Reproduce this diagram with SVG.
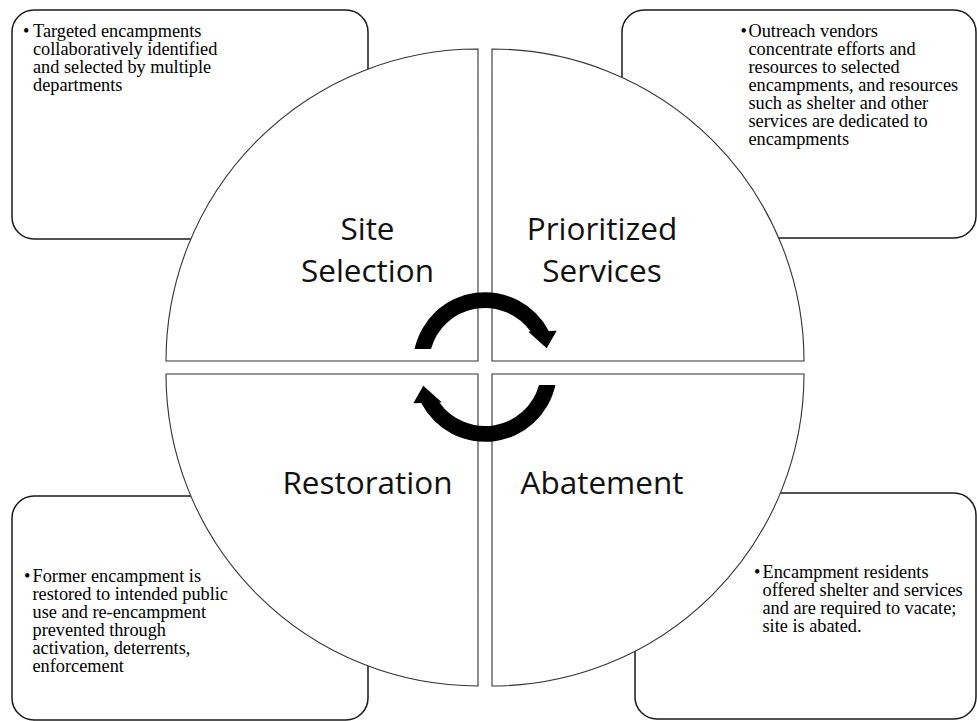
<svg xmlns="http://www.w3.org/2000/svg" width="977" height="721" viewBox="0 0 977 721">
<style>
.box{fill:#ffffff;stroke:#1a1a1a;stroke-width:1.5}
.quad{fill:#ffffff;stroke:#333333;stroke-width:1.1}
.body{font-family:"Liberation Serif","Times New Roman",serif;font-size:18.3px;fill:#000}
.lab{font-family:"Open Sans","Noto Sans",sans-serif;font-size:31.5px;fill:#111;text-anchor:middle}
.arrow{fill:#000;stroke:none}
</style>
<rect width="977" height="721" fill="#ffffff"/>
<g id="box-site-selection">
<rect class="box" x="12" y="10" width="356" height="229" rx="22"/>
<text class="body" y="36.5"><tspan x="23">•</tspan><tspan x="33">Targeted encampments</tspan><tspan x="33" dy="18">collaboratively identified</tspan><tspan x="33" dy="18">and selected by multiple</tspan><tspan x="33" dy="18">departments</tspan></text>
</g>
<g id="box-prioritized-services">
<rect class="box" x="622" y="10" width="354" height="228" rx="22"/>
<text class="body" y="36.5"><tspan x="740.5">•</tspan><tspan x="748.5">Outreach vendors</tspan><tspan x="748.5" dy="18">concentrate efforts and</tspan><tspan x="748.5" dy="18">resources to selected</tspan><tspan x="748.5" dy="18">encampments, and resources</tspan><tspan x="748.5" dy="18">such as shelter and other</tspan><tspan x="748.5" dy="18">services are dedicated to</tspan><tspan x="748.5" dy="18">encampments</tspan></text>
</g>
<g id="box-restoration">
<rect class="box" x="12" y="496" width="356" height="224" rx="22"/>
<text class="body" y="581.5"><tspan x="24">•</tspan><tspan x="32.5">Former encampment is</tspan><tspan x="32.5" dy="18">restored to intended public</tspan><tspan x="32.5" dy="18">use and re-encampment</tspan><tspan x="32.5" dy="18">prevented through</tspan><tspan x="32.5" dy="18">activation, deterrents,</tspan><tspan x="32.5" dy="18">enforcement</tspan></text>
</g>
<g id="box-abatement">
<rect class="box" x="635" y="493" width="341" height="226" rx="22"/>
<text class="body" y="577.5"><tspan x="754">•</tspan><tspan x="762.5">Encampment residents</tspan><tspan x="762.5" dy="18">offered shelter and services</tspan><tspan x="762.5" dy="18">and are required to vacate;</tspan><tspan x="762.5" dy="18">site is abated.</tspan></text>
</g>
<g id="node-site-selection">
<path class="quad" d="M478,361 H166 A312,312 0 0 1 478,49 Z"/>
<text class="lab" x="367.5" y="240">Site</text>
<text class="lab" x="367.5" y="281.7">Selection</text>
</g>
<g id="node-prioritized-services">
<path class="quad" d="M492,361 V49 A312,312 0 0 1 804,361 Z"/>
<text class="lab" x="602" y="240">Prioritized</text>
<text class="lab" x="602" y="281.7">Services</text>
</g>
<g id="node-abatement">
<path class="quad" d="M492,374 H804 A312,312 0 0 1 492,686 Z"/>
<text class="lab" x="602" y="494">Abatement</text>
</g>
<g id="node-restoration">
<path class="quad" d="M478,374 V686 A312,312 0 0 1 166,374 Z"/>
<text class="lab" x="367.5" y="494">Restoration</text>
</g>
<g id="connectors">
<path id="arrow-top" class="arrow" d="M414.6,349 A72,72 0 0 1 548.8,330.9 L556.7,330.7 L546.7,348.3 L528.3,331.7 L530.6,331.5 A56,56 0 0 0 431,349 Z"/>
<path id="arrow-bottom" class="arrow" transform="rotate(180 485 367)" d="M414.6,349 A72,72 0 0 1 548.8,330.9 L556.7,330.7 L546.7,348.3 L528.3,331.7 L530.6,331.5 A56,56 0 0 0 431,349 Z"/>
</g>
</svg>
